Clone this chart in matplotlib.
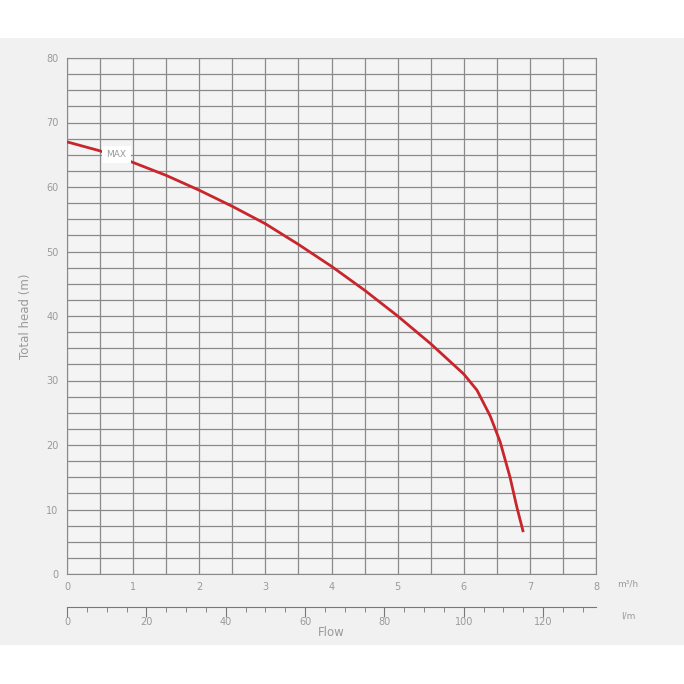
import numpy as np
import matplotlib.pyplot as plt
from matplotlib.patches import Rectangle

# 曲线数据 (m3/h, m)
flow_m3h = [0, 0.5, 1, 1.5, 2, 2.5, 3, 3.5, 4, 4.5, 5, 5.5, 6, 6.2, 6.4, 6.55, 6.7, 6.8, 6.9]
head_m = [67, 65.6, 63.8, 61.8, 59.5, 57.0, 54.3, 51.1, 47.7, 44.0, 40.0, 35.7, 31.0, 28.5, 24.5, 20.5, 15.0, 10.5, 6.5]

grey = '#9a9a9a'
fig = plt.figure(figsize=(6.84, 6.84), dpi=100, facecolor='white')
fig.patches.append(Rectangle((0, 1 - 645 / 684), 1, (645 - 38) / 684, transform=fig.transFigure,
                             facecolor='#f1f1f1', edgecolor='none', zorder=-10))

ax = fig.add_axes([67 / 684, 1 - 574 / 684, 529 / 684, 516 / 684])
ax.set_facecolor('#f4f4f4')
ax.set_xlim(0, 8)
ax.set_ylim(0, 80)
ax.set_xticks(np.arange(0, 8.01, 1))
ax.set_xticks(np.arange(0, 8.01, 0.5), minor=True)
ax.set_yticks(np.arange(0, 81, 10))
ax.set_yticks(np.arange(0, 81, 2.5), minor=True)
ax.grid(True, which='both', color='#8a8a8a', linewidth=0.9)
ax.set_axisbelow(True)
for s in ax.spines.values():
    s.set_color('#8a8a8a')
ax.tick_params(which='both', length=0, labelsize=7, colors=grey, pad=6)
ax.set_ylabel('Total head (m)', color=grey, fontsize=8.5, labelpad=10)
ax.plot(flow_m3h, head_m, color='#c8252c', linewidth=2, solid_capstyle='butt', zorder=3)
ax.text(0.75, 65.0, 'MAX', color=grey, fontsize=6.5, ha='center', va='center', zorder=4,
        bbox=dict(facecolor='white', edgecolor='none', pad=3))
fig.text(628 / 684, 1 - 584 / 684, 'm³/h', color=grey, fontsize=6.5, ha='center', va='center')

# 第二横轴 l/m
ax2 = fig.add_axes([67 / 684, 1 - 607 / 684, 529 / 684, 0.0001])
ax2.set_facecolor('none')
ax2.set_xlim(0, 8 * 1000 / 60)
for k in ['left', 'right', 'bottom']:
    ax2.spines[k].set_visible(False)
ax2.spines['top'].set_color('#777777')
ax2.set_yticks([])
ax2.xaxis.set_ticks_position('top')
ax2.set_xticks(np.arange(0, 121, 20))
ax2.set_xticks(np.arange(0, 131, 5), minor=True)
ax2.tick_params(axis='x', which='major', direction='in', length=7, color='#777777', labeltop=False,
                labelbottom=True, labelsize=7, labelcolor=grey, pad=7)
ax2.tick_params(axis='x', which='minor', direction='in', length=3.5, color='#777777')
ax2.xaxis.set_tick_params(which='both', bottom=False)
fig.text(628 / 684, 1 - 616 / 684, 'l/m', color=grey, fontsize=6.5, ha='center', va='center')
fig.text(331 / 684, 1 - 632 / 684, 'Flow', color=grey, fontsize=8.5, ha='center', va='center')

plt.savefig('out.png', dpi=100)
